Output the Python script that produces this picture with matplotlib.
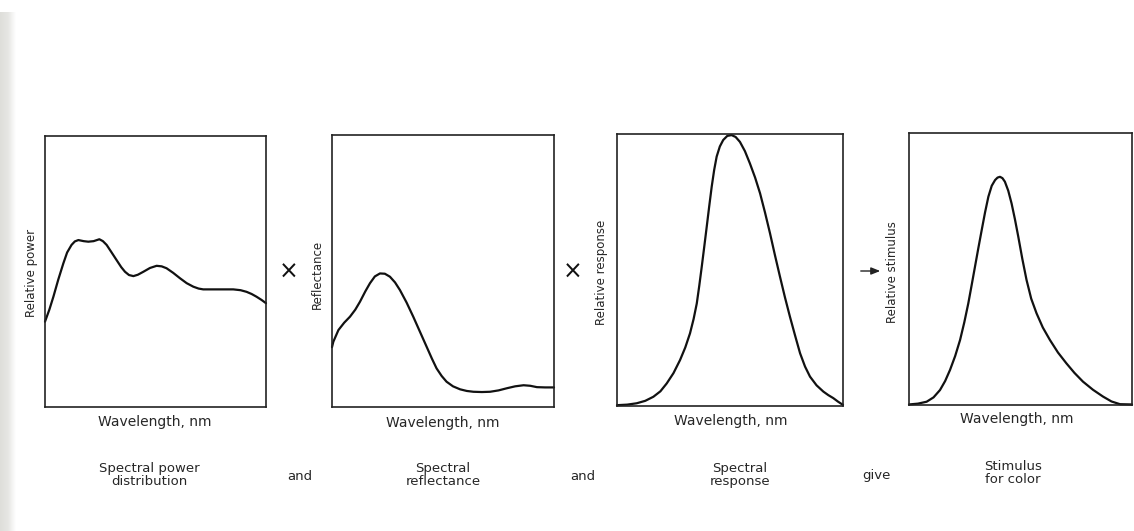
import numpy as np
import matplotlib
matplotlib.use("Agg")
import matplotlib.pyplot as plt
from matplotlib.colors import LinearSegmentedColormap

W, H = 1134, 531

# ---- data (normalised wavelength 0..1, normalised value 0..1) ----
power_x = [0.0, 0.02, 0.038, 0.06, 0.083, 0.10, 0.12, 0.135, 0.151, 0.175, 0.196, 0.22,
           0.246, 0.262, 0.279, 0.30, 0.324, 0.345, 0.362, 0.380, 0.400, 0.42,
           0.445, 0.475, 0.505, 0.528, 0.550, 0.58, 0.611, 0.641, 0.671, 0.695,
           0.716, 0.78, 0.852, 0.885, 0.912, 0.935, 0.957, 0.98, 1.0]
power_y = [0.315, 0.36, 0.407, 0.47, 0.530, 0.570, 0.598, 0.611, 0.616, 0.612, 0.610, 0.612,
           0.619, 0.612, 0.598, 0.572, 0.542, 0.516, 0.499, 0.487, 0.483, 0.488,
           0.499, 0.513, 0.521, 0.519, 0.512, 0.495, 0.475, 0.457, 0.444, 0.437,
           0.434, 0.434, 0.434, 0.431, 0.425, 0.417, 0.407, 0.395, 0.383]

refl_x = [0.0, 0.006, 0.029, 0.055, 0.081, 0.105, 0.126, 0.150, 0.171, 0.193, 0.216, 0.238,
          0.261, 0.284, 0.306, 0.336, 0.366, 0.396, 0.426, 0.450, 0.471, 0.494, 0.516,
          0.545, 0.577, 0.607, 0.637, 0.675, 0.712, 0.750, 0.788, 0.825, 0.863,
          0.893, 0.923, 0.96, 1.0]
refl_y = [0.22, 0.240, 0.283, 0.310, 0.332, 0.358, 0.387, 0.425, 0.455, 0.480, 0.491, 0.490,
          0.479, 0.458, 0.430, 0.384, 0.332, 0.277, 0.222, 0.178, 0.142, 0.114, 0.093,
          0.076, 0.065, 0.059, 0.056, 0.055, 0.056, 0.061, 0.069, 0.076, 0.080,
          0.078, 0.073, 0.072, 0.072]

resp_x = [0.0, 0.045, 0.087, 0.125, 0.161, 0.192, 0.220, 0.250, 0.279, 0.302, 0.323,
          0.339, 0.353, 0.364, 0.375, 0.386, 0.397, 0.408, 0.419, 0.430, 0.441,
          0.455, 0.470, 0.488, 0.507, 0.525, 0.544, 0.566, 0.588, 0.611, 0.633,
          0.655, 0.677, 0.699, 0.721, 0.743, 0.765, 0.788, 0.810, 0.832, 0.854,
          0.883, 0.913, 0.935, 0.957, 0.978, 1.0]
resp_y = [0.003, 0.005, 0.010, 0.019, 0.034, 0.054, 0.083, 0.121, 0.169, 0.215, 0.267,
          0.320, 0.377, 0.442, 0.512, 0.585, 0.659, 0.734, 0.806, 0.868, 0.917,
          0.954, 0.978, 0.993, 0.996, 0.989, 0.971, 0.937, 0.892, 0.840, 0.782,
          0.711, 0.635, 0.554, 0.476, 0.400, 0.329, 0.259, 0.194, 0.145, 0.108,
          0.076, 0.053, 0.040, 0.029, 0.016, 0.004]

stim_x = [0.0, 0.04, 0.079, 0.110, 0.139, 0.162, 0.184, 0.207, 0.229, 0.248, 0.266,
          0.281, 0.296, 0.311, 0.326, 0.341, 0.356, 0.371, 0.386, 0.397, 0.408, 0.419,
          0.430, 0.445, 0.460, 0.475, 0.490, 0.508, 0.527, 0.548, 0.572, 0.600,
          0.632, 0.668, 0.706, 0.742, 0.780, 0.825, 0.870, 0.908, 0.946, 1.0]
stim_y = [0.002, 0.005, 0.012, 0.028, 0.055, 0.088, 0.129, 0.180, 0.239, 0.304, 0.374,
          0.441, 0.509, 0.577, 0.643, 0.708, 0.766, 0.806, 0.827, 0.836, 0.839, 0.834,
          0.821, 0.788, 0.741, 0.683, 0.619, 0.538, 0.460, 0.391, 0.337, 0.285,
          0.239, 0.193, 0.153, 0.118, 0.086, 0.056, 0.031, 0.013, 0.003, 0.002]

y_labels = ["Relative power", "Reflectance", "Relative response", "Relative stimulus"]
x_label = "Wavelength, nm"
captions = ["Spectral power\ndistribution", "Spectral\nreflectance",
            "Spectral\nresponse", "Stimulus\nfor color"]
connectors = ["and", "and", "give"]

series = [(power_x, power_y), (refl_x, refl_y), (resp_x, resp_y), (stim_x, stim_y)]

# ---- layout (pixel boxes: left, right, top, bottom) ----
boxes = [(45, 266, 136, 407), (332, 554, 135, 407), (617, 843, 134, 406), (909, 1132, 133, 405)]
ylabel_px = [(32, 273), (317, 274), (602, 272), (893, 272)]
xlabel_px = [(155, 422), (443, 423), (731, 421), (1017, 419)]
caption_px = [(149, 475), (443, 475), (740, 475), (1013, 473)]
conn_px = [(300, 476), (583, 476), (876, 476)]

TXT = "#262626"
plt.rcParams['font.family'] = ['DejaVu Sans']

fig = plt.figure(figsize=(W / 100, H / 100), dpi=100)
fig.patch.set_facecolor("white")

def fx(px):
    return px / W

def fy(py):
    return 1 - py / H

# left binding shadow (light grey fading to white)
sh = fig.add_axes([0, 0, 16 / W, (H - 12) / H], zorder=-5)
shade = LinearSegmentedColormap.from_list("shade", ["#dededa", "#e6e6e3", "#ffffff"])
grad = np.linspace(0, 1, 64)[None, :]
sh.imshow(grad, aspect="auto", cmap=shade, vmin=0, vmax=1, extent=[0, 1, 0, 1])
sh.set_axis_off()

for i, ((l, r, t, b), (xs, ys)) in enumerate(zip(boxes, series)):
    ax = fig.add_axes([fx(l), fy(b), (r - l) / W, (b - t) / H])
    ax.plot(xs, ys, color="#111111", lw=1.6, solid_joinstyle="round",
            solid_capstyle="round", clip_on=False)
    ax.set_xlim(0, 1)
    ax.set_ylim(0, 1)
    ax.set_xticks([])
    ax.set_yticks([])
    for s in ax.spines.values():
        s.set_linewidth(1.2)
        s.set_color("#222222")
    ax.set_xlabel(x_label, fontsize=10, color=TXT, va="center", ha="center")
    ax.xaxis.set_label_coords(fx(xlabel_px[i][0]), fy(xlabel_px[i][1]),
                              transform=fig.transFigure)
    ax.set_ylabel(y_labels[i], fontsize=8.5, color=TXT, va="center", ha="center")
    ax.yaxis.set_label_coords(fx(ylabel_px[i][0]), fy(ylabel_px[i][1]),
                              transform=fig.transFigure)
    fig.text(fx(caption_px[i][0]), fy(caption_px[i][1]), captions[i], fontsize=9.5,
             color=TXT, ha="center", va="center", linespacing=1.0)

for (px, py), word in zip(conn_px, connectors):
    fig.text(fx(px), fy(py), word, fontsize=9.5, color=TXT, ha="center", va="center")

# operators between panels
for px in (289, 573):
    fig.text(fx(px), fy(272), "\u00d7", fontsize=17, color="#111111",
             ha="center", va="center")

fig.add_artist(matplotlib.patches.FancyArrowPatch(
    (fx(858), fy(271)), (fx(883), fy(271)), transform=fig.transFigure,
    arrowstyle="-|>,head_length=0.45,head_width=0.18", color="#222222",
    lw=1.0, mutation_scale=12))

fig.savefig("out.png", dpi=100, facecolor="white")
